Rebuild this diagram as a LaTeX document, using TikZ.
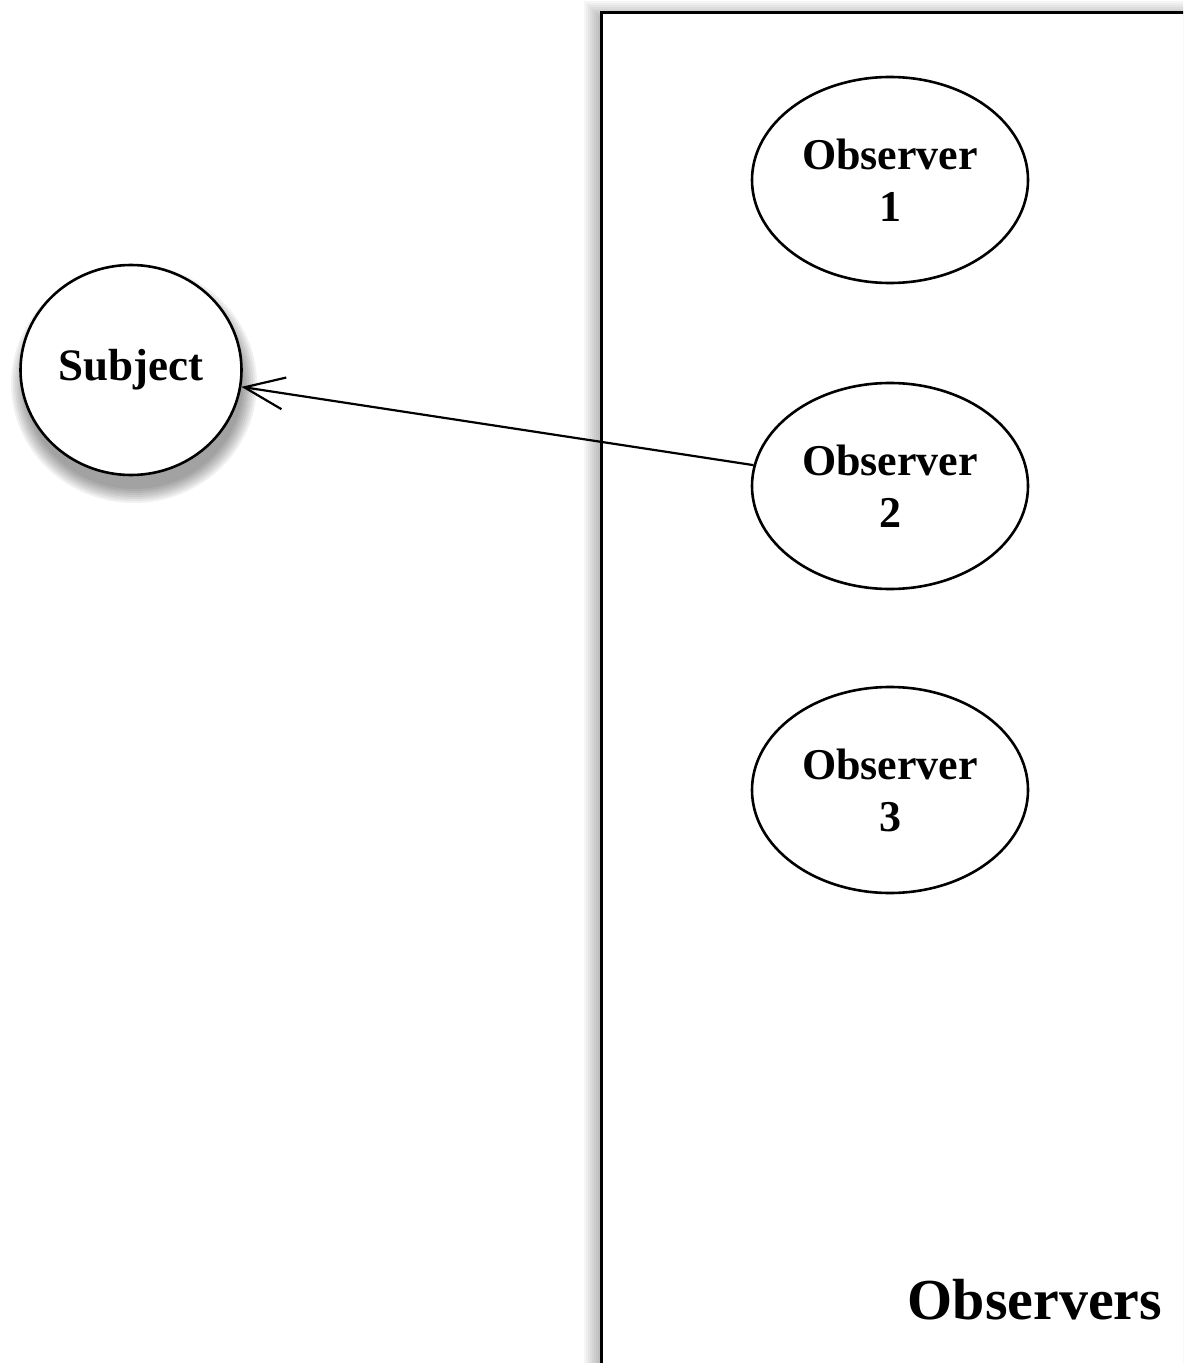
\documentclass[tikz,border=0pt]{standalone}
\usepackage{fontspec}
\setmainfont{Liberation Serif}
\usetikzlibrary{arrows.meta,shapes.geometric}
\begin{document}
\begin{tikzpicture}[x=0.5pt,y=-0.5pt,
  obsnode/.style={draw, fill=white, ellipse, line width=1.3pt, minimum width=138pt, minimum height=103pt, inner sep=0pt, align=center, font=\bfseries\fontsize{22}{26}\selectfont},
  subjnode/.style={draw, fill=white, ellipse, line width=1.3pt, minimum width=110.5pt, minimum height=105pt, inner sep=0pt, font=\bfseries\fontsize{22.5}{26}\selectfont},
  groupbox/.style={draw, fill=white, line width=1.3pt, minimum width=300pt, minimum height=700pt, inner sep=0pt, anchor=north west},
  conn/.style={line width=1.1pt, -{Straight Barb[length=20pt,width=16pt,line width=1.1pt]}}]
\useasboundingbox (0,0) rectangle (1183,1363);
\clip (0,0) rectangle (1183,1363);
% soft shadows
\foreach \i in {0,...,7}{
  \fill[black, opacity=0.035] (598-\i*2, 15-\i*2) rectangle (1400,1500);
  \fill[black, opacity=0.055] (134,384) ellipse [x radius={(54.5+\i)*1pt}, y radius={(52.5+\i)*1pt}];
}
\node[groupbox] (group) at (600,11) {};
\node[subjnode] (subj) at (131,370) {Subject};
\node[obsnode] (obs1) at (890,180) {Observer\\1};
\node[obsnode] (obs2) at (890,486) {Observer\\2};
\node[obsnode] (obs3) at (890,790) {Observer\\3};
\node[font=\bfseries\fontsize{29}{34}\selectfont] (grouplabel) at (1035,1300) {Observers};
\draw[conn] (obs2) -- (subj);
\end{tikzpicture}
\end{document}
